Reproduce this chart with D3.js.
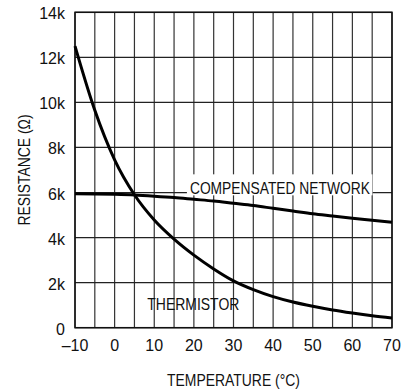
<!DOCTYPE html>
<html><head><meta charset="utf-8">
<script src="https://cdn.jsdelivr.net/npm/d3@7"></script>
<style>
body{margin:0;background:#fff;}
text{font-family:"Liberation Sans",Arial,sans-serif;fill:#111;}
</style></head>
<body><svg id="c" width="407" height="392"></svg>
<script>
const temperatures = [-10,-5,0,5,10,15,20,25,30,35,40,45,50,55,60,65,70];
const thermistor = [12500,9650,7450,5900,4780,3930,3220,2610,2080,1690,1380,1140,950,785,650,530,430];
const compensated = [5950,5940,5920,5890,5840,5780,5700,5620,5520,5420,5300,5180,5060,4960,4860,4770,4680];
const xTicks = [-10,0,10,20,30,40,50,60,70];
const xGrid = [-10,-5,0,5,10,15,20,25,30,35,40,45,50,55,60,65,70];
const yTicks = [0,2000,4000,6000,8000,10000,12000,14000];
const yTickLabels = ["0","2k","4k","6k","8k","10k","12k","14k"];

const svg = d3.select("#c");
const m = {l:75, r:15, t:12.3, b:64.3};
const W = 407, H = 392;
const x = d3.scaleLinear().domain([-10,70]).range([m.l, W-m.r]);
const y = d3.scaleLinear().domain([0,14000]).range([H-m.b, m.t]);

const g = svg.append("g");
g.selectAll(".vg").data(xGrid).enter().append("line")
 .attr("x1",d=>x(d)).attr("x2",d=>x(d)).attr("y1",y(0)).attr("y2",y(14000))
 .attr("stroke","#333").attr("stroke-width",1.2);
g.selectAll(".hg").data(yTicks).enter().append("line")
 .attr("x1",x(-10)).attr("x2",x(70)).attr("y1",d=>y(d)).attr("y2",d=>y(d))
 .attr("stroke","#222").attr("stroke-width",1.2);

const compLabel = svg.append("text").attr("x",x(19)).attr("y",y(5920))
  .attr("font-size",17).attr("textLength",180).attr("lengthAdjust","spacingAndGlyphs")
  .text("COMPENSATED NETWORK");
const bb = compLabel.node().getBBox();
g.append("rect").attr("x",bb.x-3).attr("y",bb.y-5).attr("width",bb.width+5).attr("height",bb.height+2).attr("fill","#fff");

g.append("rect").attr("x",x(-10)).attr("y",y(14000)).attr("width",x(70)-x(-10)).attr("height",y(0)-y(14000))
 .attr("fill","none").attr("stroke","#111").attr("stroke-width",1.5);

const line = d3.line().curve(d3.curveMonotoneX);
g.append("path").attr("d",line(temperatures.map((t,i)=>[x(t),y(thermistor[i])])))
 .attr("fill","none").attr("stroke","#000").attr("stroke-width",3);
g.append("path").attr("d",line(temperatures.map((t,i)=>[x(t),y(compensated[i])])))
 .attr("fill","none").attr("stroke","#000").attr("stroke-width",3);

compLabel.raise();
svg.append("text").attr("x",x(8.25)).attr("y",y(800)).attr("font-size",17)
 .attr("textLength",92).attr("lengthAdjust","spacingAndGlyphs").text("THERMISTOR");

svg.selectAll(".xt").data(xTicks).enter().append("text")
 .attr("x",d=>x(d)).attr("y",y(0)+23).attr("text-anchor","middle").attr("font-size",16)
 .text(d=>d<0?"\u2013"+Math.abs(d):d);
svg.selectAll(".yt").data(yTicks).enter().append("text")
 .attr("x",x(-10)-10).attr("y",d=>y(d)+7).attr("text-anchor","end").attr("font-size",16)
 .text((d,i)=>yTickLabels[i]);

svg.append("text").attr("x",(x(-10)+x(70))/2).attr("y",386).attr("text-anchor","middle").attr("font-size",16.5)
 .attr("textLength",133).attr("lengthAdjust","spacingAndGlyphs").text("TEMPERATURE (°C)");
svg.append("text").attr("transform",`translate(30,${(y(0)+y(14000))/2}) rotate(-90)`).attr("text-anchor","middle").attr("font-size",16.5)
 .attr("textLength",111).attr("lengthAdjust","spacingAndGlyphs").text("RESISTANCE (Ω)");
</script></body></html>
